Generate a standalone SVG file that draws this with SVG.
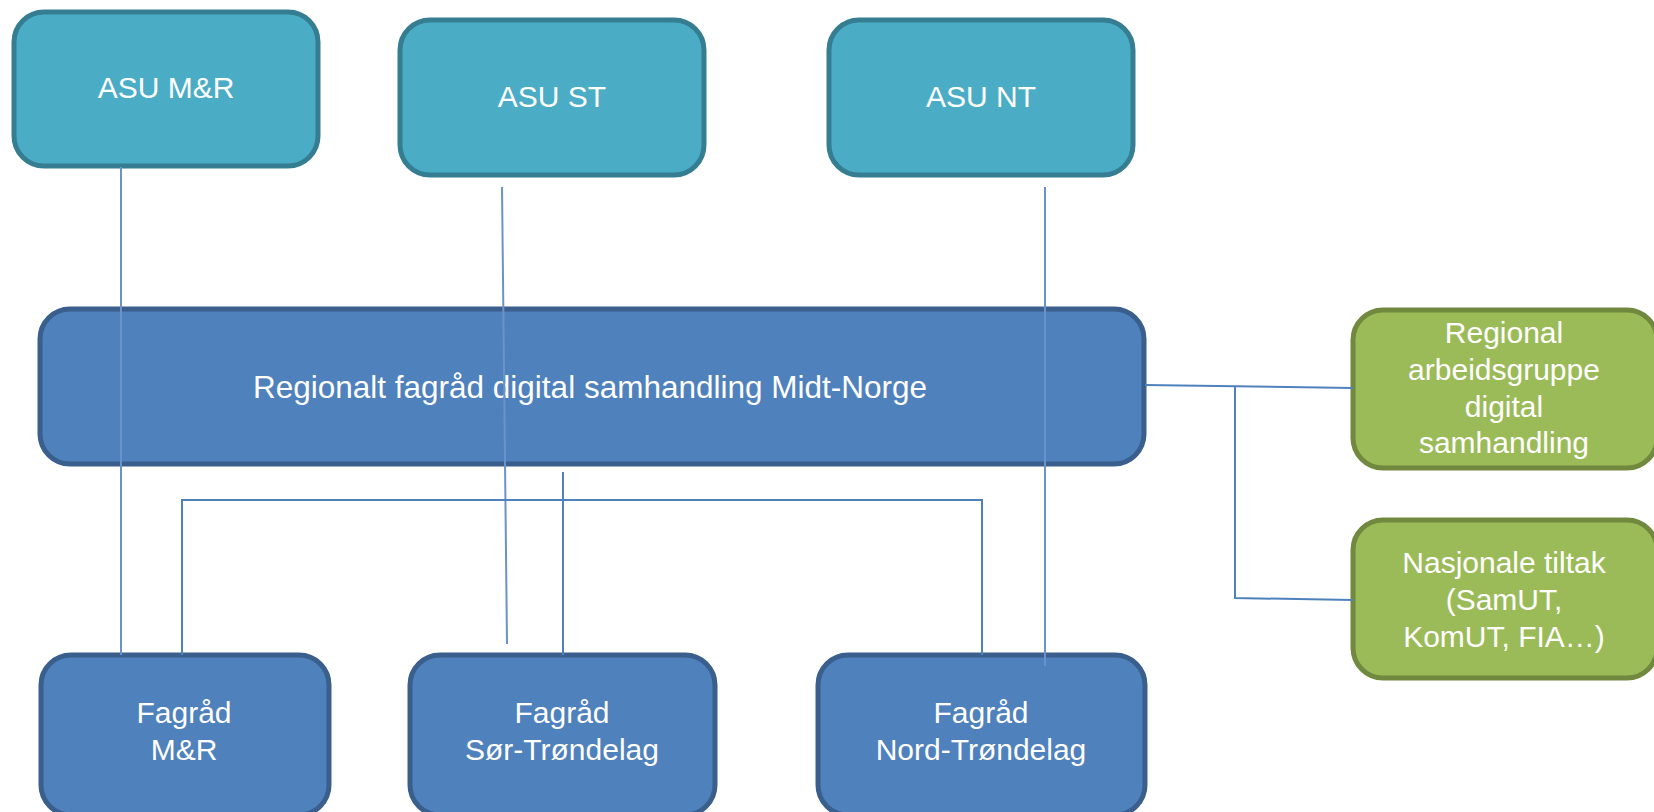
<svg xmlns="http://www.w3.org/2000/svg" width="1654" height="812" viewBox="0 0 1654 812">
<style>
.asu{fill:#4BACC6;stroke:#357E92;stroke-width:5}
.blue{fill:#4F81BD;stroke:#3A5F8C;stroke-width:5}
.green{fill:#9BBB59;stroke:#71893F;stroke-width:5}
text{font-family:"Liberation Sans","DejaVu Sans",sans-serif;font-size:30px;fill:#FFFFFF;text-anchor:middle}
.big{font-size:31.5px}
.con{stroke:#4F81BD;stroke-width:2;fill:none}
.con2{stroke:#6A93C8;stroke-width:2;fill:none}
</style>
<rect width="1654" height="812" fill="#FFFFFF"/>
<g id="asu-mr"><rect class="asu" x="14" y="12" width="304" height="154" rx="30"/><text x="166" y="98">ASU M&amp;R</text></g>
<g id="asu-st"><rect class="asu" x="400" y="20" width="304" height="155" rx="30"/><text x="552" y="107">ASU ST</text></g>
<g id="asu-nt"><rect class="asu" x="829" y="20" width="304" height="155" rx="30"/><text x="981" y="107">ASU NT</text></g>
<g id="regional"><rect class="blue" x="40" y="309" width="1104" height="155" rx="30"/><text class="big" x="590" y="398">Regionalt fagråd digital samhandling Midt-Norge</text></g>
<g id="arbeidsgruppe"><rect class="green" x="1353" y="310" width="304" height="158" rx="30"/><text x="1504" y="343">Regional</text><text x="1504" y="380">arbeidsgruppe</text><text x="1504" y="417">digital</text><text x="1504" y="453">samhandling</text></g>
<g id="nasjonale"><rect class="green" x="1353" y="520" width="304" height="158" rx="30"/><text x="1504" y="573">Nasjonale tiltak</text><text x="1504" y="610">(SamUT,</text><text x="1504" y="647">KomUT, FIA…)</text></g>
<g id="fagrad-mr"><rect class="blue" x="41" y="655" width="288" height="160" rx="30"/><text x="184" y="723">Fagråd</text><text x="184" y="760">M&amp;R</text></g>
<g id="fagrad-st"><rect class="blue" x="410" y="655" width="305" height="160" rx="30"/><text x="562" y="723">Fagråd</text><text x="562" y="760">Sør-Trøndelag</text></g>
<g id="fagrad-nt"><rect class="blue" x="818" y="655" width="327" height="160" rx="30"/><text x="981" y="723">Fagråd</text><text x="981" y="760">Nord-Trøndelag</text></g>
<g id="connectors">
<line class="con2" x1="121" y1="167" x2="121" y2="655"/>
<line class="con2" x1="502" y1="187" x2="507" y2="644"/>
<line class="con2" x1="1045" y1="187" x2="1045" y2="666"/>
<line class="con" x1="563" y1="472" x2="563" y2="655"/>
<polyline class="con" points="182,655 182,500 982,500 982,655"/>
<line class="con" x1="1145" y1="385" x2="1353" y2="388"/>
<polyline class="con" points="1235,386 1235,598 1353,600"/>
</g>
</svg>
